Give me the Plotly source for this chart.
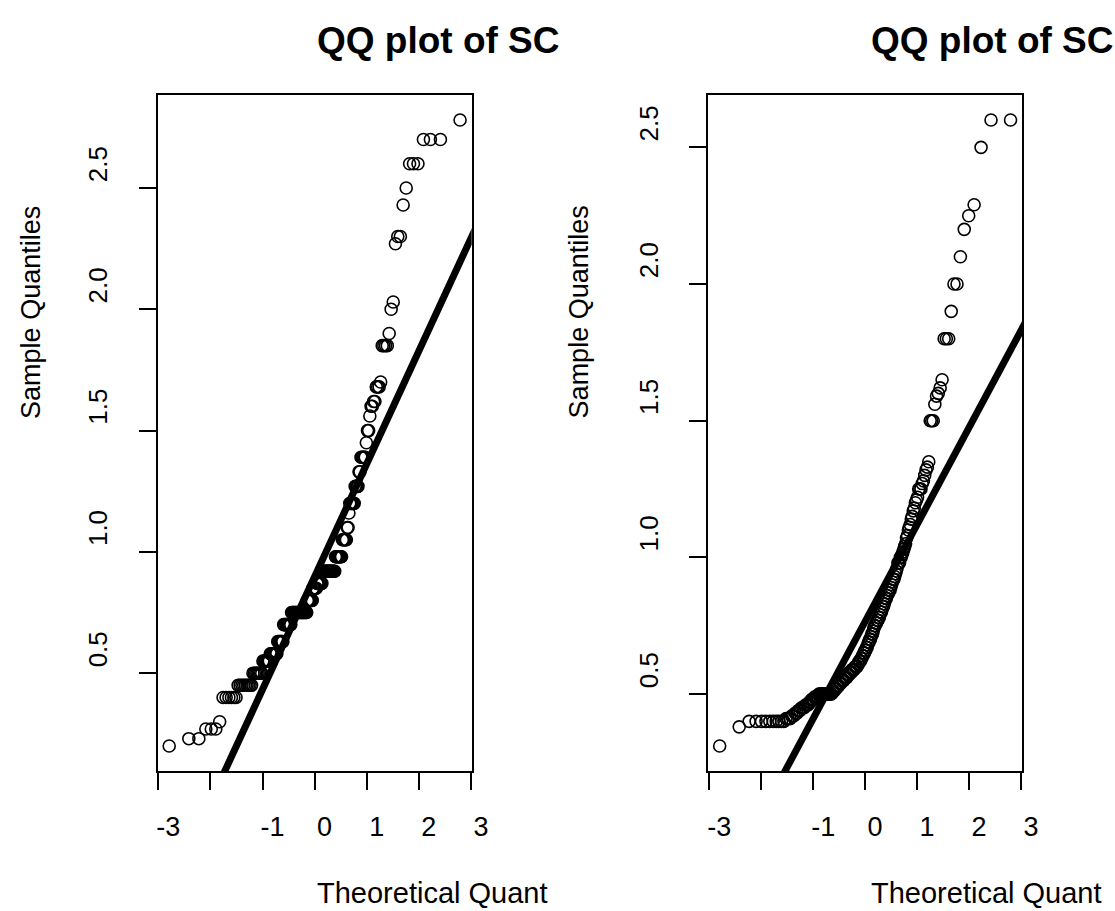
import plotly.graph_objects as go
from statistics import NormalDist

# ---------------- data ----------------
left_values = (
    [0.2] + [0.23] * 2 + [0.27] * 3 + [0.3] + [0.4] * 6 + [0.45] * 9 + [0.5] * 8
    + [0.55] * 7 + [0.58] * 8 + [0.63] * 7 + [0.7] * 10 + [0.75] * 22 + [0.8] * 8
    + [0.85] * 6 + [0.87] * 8 + [0.92] * 18 + [0.98] * 9 + [1.05] * 6 + [1.1] * 2
    + [1.16] + [1.2] * 6 + [1.27] * 4 + [1.33] * 2 + [1.39] * 5 + [1.45] + [1.5] * 2
    + [1.56] + [1.6] * 2 + [1.62] * 2 + [1.68] * 3 + [1.7] + [1.85] * 4 + [1.9]
    + [2.0] + [2.03] + [2.27] + [2.3] * 2 + [2.43] + [2.5] + [2.6] * 3 + [2.7] * 3
    + [2.78]
)

right_values = (
    [0.31, 0.38] + [0.40] * 10 + [0.41] * 3
    + [0.42, 0.42, 0.43, 0.43, 0.44]
    + [0.44, 0.45, 0.45, 0.45, 0.46]
    + [0.46, 0.46, 0.47, 0.47, 0.48]
    + [0.48, 0.48, 0.49, 0.49, 0.49]
    + [0.49, 0.5, 0.5, 0.5, 0.5]
    + [0.5] * 10
    + [0.5, 0.51, 0.51, 0.51, 0.52]
    + [0.52, 0.52, 0.53, 0.53, 0.53]
    + [0.54, 0.54, 0.54, 0.55, 0.55]
    + [0.55, 0.55, 0.56, 0.56, 0.56]
    + [0.56, 0.57, 0.57, 0.57, 0.58]
    + [0.58, 0.58, 0.58, 0.59, 0.59]
    + [0.59, 0.59, 0.6, 0.6, 0.6]
    + [0.6, 0.61, 0.61, 0.62, 0.62]
    + [0.62, 0.63, 0.63, 0.64, 0.64]
    + [0.65, 0.65, 0.66, 0.66, 0.67]
    + [0.67, 0.68, 0.69, 0.69, 0.7]
    + [0.7, 0.71, 0.72, 0.72, 0.73]
    + [0.74, 0.75, 0.75, 0.76, 0.76]
    + [0.77, 0.77, 0.78, 0.78, 0.79]
    + [0.8, 0.8, 0.81, 0.82, 0.82]
    + [0.83, 0.84, 0.85, 0.85, 0.86]
    + [0.87, 0.87, 0.88, 0.88, 0.89]
    + [0.9, 0.91, 0.92, 0.92, 0.93]
    + [0.94, 0.95, 0.96, 0.98, 0.98]
    + [0.98, 1.0, 1.0, 1.01, 1.02]
    + [1.03, 1.04, 1.05, 1.07, 1.08]
    + [1.1, 1.11, 1.12, 1.14, 1.15]
    + [1.17, 1.18, 1.2, 1.21, 1.22]
    + [1.25, 1.25, 1.25, 1.27, 1.28]
    + [1.3, 1.32, 1.33, 1.35]
    + [1.5] * 3
    + [1.56, 1.59, 1.6, 1.62, 1.65]
    + [1.8] * 3
    + [1.9, 2.0, 2.0, 2.1, 2.2, 2.25, 2.29, 2.5, 2.6, 2.6]
)

# qqline (intercept, slope)
left_line = (0.898, 0.465)
right_line = (0.765, 0.355)

x_tick_vals = [-3, -2, -1, 0, 1, 2, 3]
x_tick_text = ["-3", "", "-1", "0", "1", "2", "3"]
y_tick_vals = [0.5, 1.0, 1.5, 2.0, 2.5]
y_tick_text = ["0.5", "1.0", "1.5", "2.0", "2.5"]

title_text = "QQ plot of SC"
x_label = "Theoretical Quant"
y_label = "Sample Quantiles"

# ---------------- helpers ----------------
W, H = 1115, 911
SX = 1.0136  # horizontal placement correction
FONT = "Liberation Sans, Arial, Helvetica, sans-serif"
nd = NormalDist()


def theoretical(values):
    n = len(values)
    return [nd.inv_cdf((i + 0.5) / n) for i in range(n)]


def r_range(vals):
    lo, hi = min(vals), max(vals)
    d = (hi - lo) * 0.04
    return [lo - d, hi + d]


def px_x(p):
    return p * SX / W


def px_y(p):
    return 1 - p / H


fig = go.Figure()

panels = [
    ("x", "y", left_values, left_line),
    ("x2", "y2", right_values, right_line),
]

for xa, ya, vals, (a, b) in panels:
    xs = theoretical(vals)
    ys = sorted(vals)
    fig.add_trace(go.Scatter(
        x=xs, y=ys, mode="markers", xaxis=xa, yaxis=ya,
        marker=dict(symbol="circle-open", size=12, color="black",
                    line=dict(width=1.6, color="black")),
        showlegend=False, hoverinfo="skip",
    ))
    lx = [-4, 4]
    fig.add_trace(go.Scatter(
        x=lx, y=[a + b * v for v in lx], mode="lines", xaxis=xa, yaxis=ya,
        line=dict(color="black", width=7), showlegend=False, hoverinfo="skip",
    ))

common_x = dict(
    tickvals=x_tick_vals, ticktext=x_tick_text, ticks="outside", ticklen=17,
    tickwidth=2, tickcolor="black", showline=True, linewidth=2,
    linecolor="black", mirror=True, showgrid=False, zeroline=False,
    tickfont=dict(family=FONT, size=27, color="black"),
    ticklabelstandoff=14, ticklabelshift=10, fixedrange=True,
)
common_y = dict(
    tickvals=y_tick_vals, ticktext=y_tick_text, ticks="outside", ticklen=17,
    tickwidth=2, tickcolor="black", showline=True, linewidth=2,
    linecolor="black", mirror=True, showgrid=False, zeroline=False,
    tickangle=-90, tickfont=dict(family=FONT, size=26, color="black"),
    ticklabelstandoff=21, ticklabelshift=-20, fixedrange=True,
)

lx_all = theoretical(left_values)
rx_all = theoretical(right_values)

fig.update_layout(
    width=W, height=H, autosize=False,
    margin=dict(l=0, r=0, t=0, b=0),
    paper_bgcolor="white", plot_bgcolor="white",
    xaxis=dict(domain=[px_x(157), px_x(472)], range=r_range(lx_all),
               anchor="y", **common_x),
    yaxis=dict(domain=[px_y(771), px_y(95)], range=r_range(left_values),
               anchor="x", **common_y),
    xaxis2=dict(domain=[px_x(709), px_x(1024)], range=r_range(rx_all),
                anchor="y2", **common_x),
    yaxis2=dict(domain=[px_y(771), px_y(95)], range=r_range(right_values),
                anchor="x2", **common_y),
)

annotations = []
for left_px in (315, 870):
    annotations.append(dict(
        text="<b>" + title_text + "</b>", xref="paper", yref="paper",
        x=px_x(left_px), y=px_y(40), xanchor="left", yanchor="middle",
        showarrow=False, font=dict(family=FONT, size=37, color="black"),
    ))
    annotations.append(dict(
        text=x_label, xref="paper", yref="paper",
        x=px_x(left_px), y=px_y(893), xanchor="left", yanchor="middle",
        showarrow=False, font=dict(family=FONT, size=29, color="black"),
    ))
for cx in (30, 580):
    annotations.append(dict(
        text=y_label, xref="paper", yref="paper", textangle=-90,
        x=px_x(cx), y=px_y(312), xanchor="center", yanchor="middle",
        showarrow=False, font=dict(family=FONT, size=27, color="black"),
    ))
fig.update_layout(annotations=annotations)

fig.write_html(
    "out.html",
    config={"displayModeBar": False, "responsive": False},
    post_script=(
        "document.documentElement.style.overflow='hidden';"
        "document.body.style.margin='0px';"
        "document.body.style.padding='0px';"
        "document.body.style.overflow='hidden';"
        "var gd=document.getElementById('{plot_id}');"
        "gd.style.position='fixed';gd.style.left='0px';gd.style.top='0px';"
    ),
)
